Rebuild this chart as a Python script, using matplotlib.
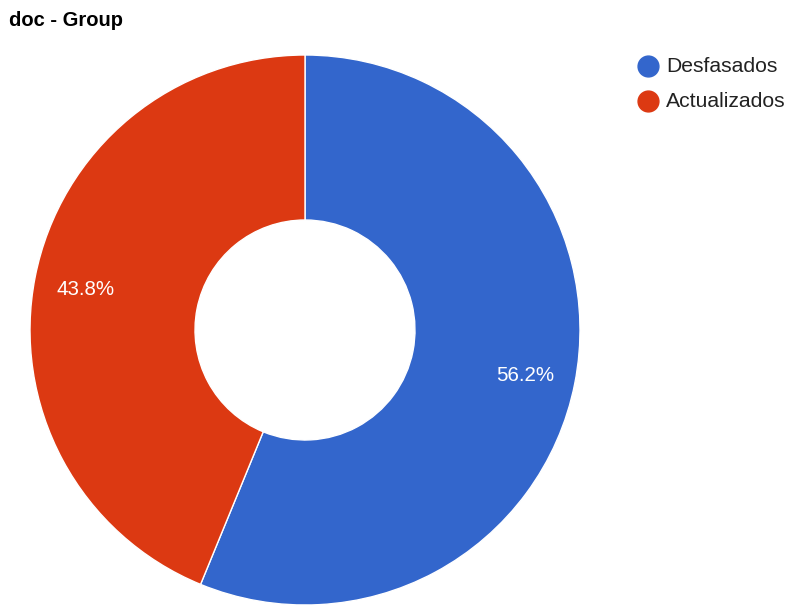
import matplotlib
matplotlib.use("Agg")
import matplotlib.pyplot as plt
from matplotlib.lines import Line2D
import numpy as np

categories = ["Desfasados", "Actualizados"]
values = [56.2, 43.8]
colors = ["#3366CC", "#DC3912"]
title = "doc - Group"

plt.rcParams['font.family'] = ['Liberation Sans', 'DejaVu Sans']

W, H = 787, 605
fig = plt.figure(figsize=(W / 100, H / 100), dpi=100)
cx, cy, R = 305, 330, 275
ax = fig.add_axes([(cx - R) / W, (H - cy - R) / H, 2 * R / W, 2 * R / H])
ax.axis("off")

wedges, _ = ax.pie(values, colors=colors, startangle=90, counterclock=False,
                   radius=1, wedgeprops=dict(width=1 - 110 / 275, edgecolor="white", linewidth=1),
                   frame=False)
for w in wedges:
    w.set_clip_on(False)
ax.set_aspect("equal")
ax.set_xlim(-1, 1)
ax.set_ylim(-1, 1)

total = sum(values)
start = 0.0
label_r = 224 / 275
for v in values:
    mid = (start + v / 2) / total * 2 * np.pi
    x = label_r * np.sin(mid)
    y = label_r * np.cos(mid) - 2.5 / 275
    ax.text(x, y, f"{v / total * 100:.1f}%", color="white", fontsize=14.8,
            ha="center", va="center")
    start += v

fig.text(9 / W, 1 - 21 / H, title, fontsize=14.5, fontweight="bold", ha="left", va="center")

for i, (cat, col) in enumerate(zip(categories, colors)):
    yy = 1 - (66 + 35 * i) / H
    fig.add_artist(Line2D([647.5 / W], [yy], marker="o", markersize=15, color=col,
                          linestyle="none", transform=fig.transFigure))
    fig.text(666 / W, yy, cat, fontsize=15.2, color="#222222", ha="left", va="center")

fig.savefig("out.png", dpi=100, facecolor="white")
